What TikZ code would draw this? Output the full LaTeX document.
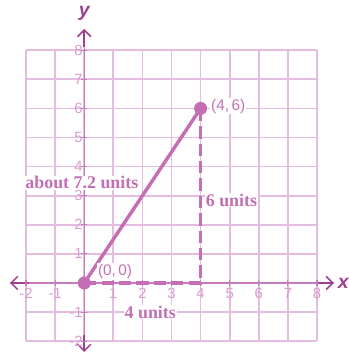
\documentclass[tikz,border=0pt]{standalone}
\usepackage{fontspec}
\setmainfont{Liberation Serif}
\newfontfamily\ticksans{Liberation Sans}
\usetikzlibrary{arrows.meta}
\definecolor{gridc}{HTML}{E3BCDF}
\definecolor{axisc}{HTML}{C47CBC}
\definecolor{arrowc}{HTML}{9E3F90}
\definecolor{segc}{HTML}{C46FB4}
\definecolor{tickc}{HTML}{D89BD0}
\tikzset{
  gridline/.style={draw=gridc, line width=1.7pt},
  axisline/.style={draw=axisc, line width=1.4pt},
  axisarrow/.style={draw=arrowc, line width=1.5pt, -{Straight Barb[length=6.5pt,width=13pt,line width=1.5pt]}},
  tickmark/.style={draw=axisc, line width=1.1pt},
  ticklabel/.style={text=tickc, font=\ticksans\fontsize{14.5}{14.5}\selectfont, inner sep=0pt},
  axislabel/.style={text=arrowc, font=\ticksans\bfseries\itshape\fontsize{19}{19}\selectfont, inner sep=0pt},
  seg/.style={draw=segc, line width=3.4pt},
  dashseg/.style={draw=segc, line width=3.4pt, dash pattern=on 12pt off 5pt},
  ptdot/.style={circle, fill=segc, inner sep=0pt, minimum size=12.5pt},
  ptlabel/.style={text=segc, font=\ticksans\fontsize{15}{15}\selectfont, fill=white, inner sep=1pt},
  unitlabel/.style={text=segc, font=\bfseries\fontsize{17.5}{17.5}\selectfont, fill=white, inner sep=1pt},
}
\begin{document}
\begin{tikzpicture}[x=1cm,y=1cm]
\useasboundingbox (-2.894,-2.440) rectangle (9.065,9.725);
% grid
\foreach \i in {-2,...,8} {
  \draw[gridline] (\i,-2) -- (\i,8);
  \draw[gridline] (-2,\i) -- (8,\i);
}
% axes
\coordinate (xl) at (-2.55,0);
\coordinate (xr) at (8.58,0);
\coordinate (yb) at (0,-2.37);
\coordinate (yt) at (0,8.73);
\draw[axisline] (xl) -- (xr);
\draw[axisline] (yb) -- (yt);
\draw[axisarrow] (-1.9,0) -- (xl);
\draw[axisarrow] (8.0,0) -- (xr);
\draw[axisarrow] (0,-1.8) -- (yb);
\draw[axisarrow] (0,8.1) -- (yt);
\node[axislabel] (xlab) at (8.9,0) {x};
\node[axislabel] (ylab) at (0,9.25) {y};
% ticks and labels
\foreach \i in {-2,-1,1,2,3,4,5,6,7,8} {
  \draw[tickmark] (\i,-0.1) -- (\i,0.1);
  \draw[tickmark] (-0.1,\i) -- (0.1,\i);
  \node[ticklabel] at (\i,-0.37) {\i};
  \node[ticklabel, anchor=east] at (-0.05,\i) {\i};
}
% segments
\node[ptdot] (O) at (0,0) {};
\node[ptdot] (P) at (4,6) {};
\coordinate (Q) at (4,0);
\draw[dashseg] (O.center) -- (Q) -- (P.center);
\draw[seg] (O.center) -- (P.center);
\node[ptdot] at (0,0) {};
\node[ptdot] at (4,6) {};
% labels
\node[ptlabel] (lo) at (1.06,0.40) {(0,\,0)};
\node[ptlabel] (lp) at (4.95,6.08) {(4,\,6)};
\node[unitlabel] (l72) at (-0.08,3.44) {about 7.2 units};
\node[unitlabel] (l6) at (5.06,2.85) {6 units};
\node[unitlabel] (l4) at (2.27,-1.0) {4 units};
\end{tikzpicture}
\end{document}
